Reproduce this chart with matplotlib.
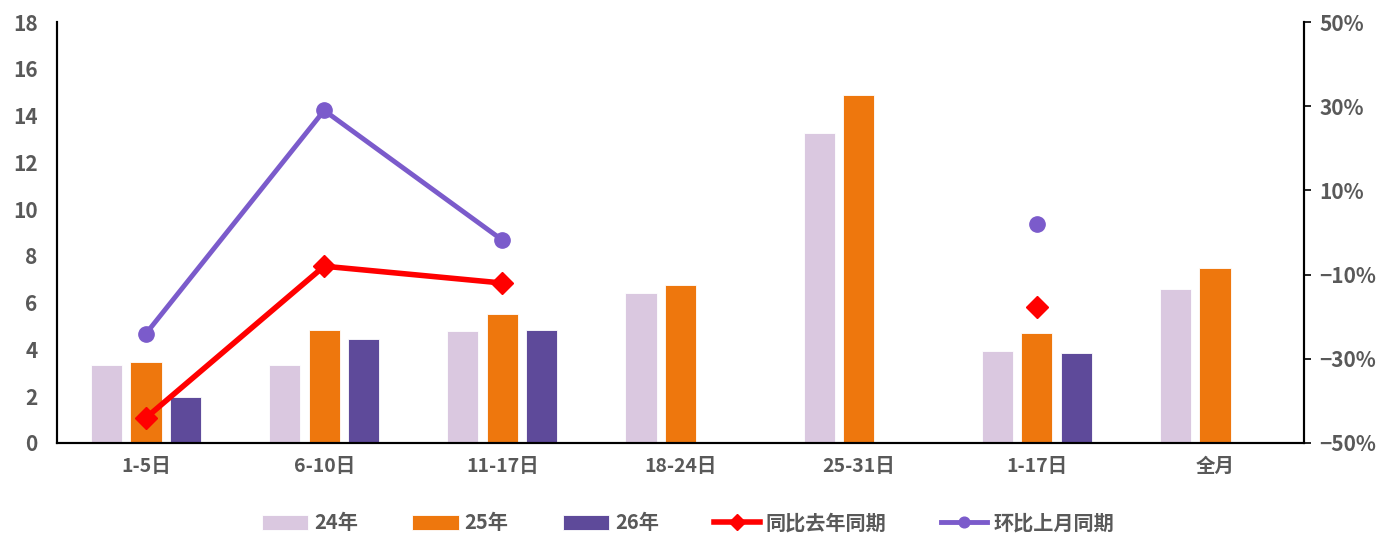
import numpy as np
import matplotlib.pyplot as plt

plt.rcParams['font.family'] = ['Noto Sans CJK SC', 'DejaVu Sans']
plt.rcParams['axes.unicode_minus'] = True

cats = ['1-5日', '6-10日', '11-17日', '18-24日', '25-31日', '1-17日', '全月']
y24 = [3.35, 3.35, 4.8, 6.4, 13.25, 3.95, 6.6]
y25 = [3.45, 4.85, 5.5, 6.75, 14.9, 4.7, 7.48]
y26 = [1.95, 4.45, 4.85, np.nan, np.nan, 3.85, np.nan]
yoy = [-44.0, -8.0, -12.0, np.nan, np.nan, -17.7, np.nan]
mom = [-24.0, 29.0, -1.8, np.nan, np.nan, 2.0, np.nan]

c24 = '#DAC8E0'
c25 = '#EE770D'
c26 = '#5E4A9A'
cred = '#FF0000'
cpur = '#7B5BCB'
tc = '#595959'

fig = plt.figure(figsize=(13.76, 5.38), dpi=100)
ax = fig.add_axes([0.0414, 0.1766, 0.9063, 0.7824])
ax2 = ax.twinx()

x = np.arange(len(cats))
w = 0.175
d = 0.222
ax.bar(x - d, y24, w, color=c24, edgecolor='white', linewidth=0.6, label='24年')
ax.bar(x, y25, w, color=c25, edgecolor='white', linewidth=0.6, label='25年')
ax.bar(x + d, y26, w, color=c26, edgecolor='white', linewidth=0.6, label='26年')

ax2.plot(x, yoy, color=cred, lw=4, marker='D', ms=11, label='同比去年同期')
ax2.plot(x, mom, color=cpur, lw=3.5, marker='o', ms=11, label='环比上月同期')

ax.set_xlim(-0.5, 6.5)
ax.set_ylim(0, 18)
ax.set_yticks(range(0, 19, 2))
ax2.set_ylim(-50, 50)
ax2.set_yticks(range(-50, 51, 20))
ax2.set_yticklabels([f'{v}%'.replace('-', '\u2212') for v in range(-50, 51, 20)])

ax.set_xticks(x)
ax.set_xticklabels(cats)
for a in (ax, ax2):
    a.spines['top'].set_visible(False)
    for s in ('left', 'bottom', 'right'):
        a.spines[s].set_linewidth(1.5)
        a.spines[s].set_color('black')
ax.tick_params(axis='y', length=0, labelsize=15, labelcolor=tc, pad=14)
ax.tick_params(axis='x', length=0, labelsize=14, labelcolor=tc, pad=10)
ax2.tick_params(axis='y', length=5, width=1.2, labelsize=15, labelcolor=tc, pad=6)
for lbl in ax.get_yticklabels() + ax.get_xticklabels() + ax2.get_yticklabels():
    lbl.set_fontweight('bold')

h1, l1 = ax.get_legend_handles_labels()
h2, l2 = ax2.get_legend_handles_labels()
leg = fig.legend(h1 + h2, l1 + l2, loc='lower center', bbox_to_anchor=(0.5, -0.025), ncol=5,
                 frameon=False, fontsize=14.5, handlelength=2.3, handleheight=0.8,
                 columnspacing=2.7, handletextpad=0.3, markerscale=0.7)
for t in leg.get_texts():
    t.set_color(tc)
    t.set_fontweight('bold')

fig.savefig('out.png', dpi=100)
